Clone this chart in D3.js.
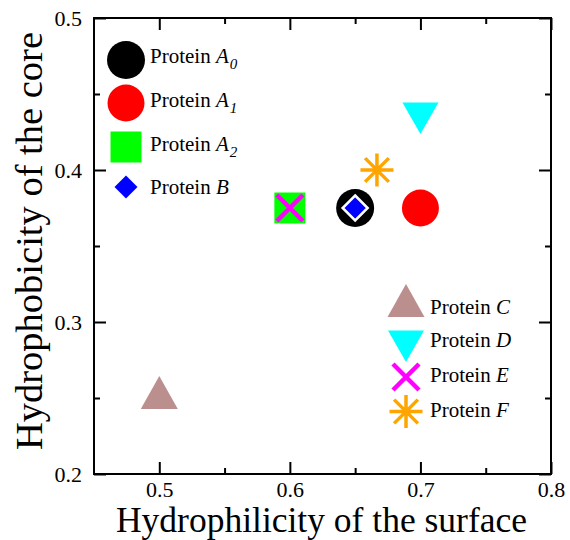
<!DOCTYPE html>
<html>
<head>
<meta charset="utf-8">
<script src="https://cdn.jsdelivr.net/npm/d3@7"></script>
<style>
  body { margin: 0; background: #fff; }
  text { font-family: "Liberation Serif", "Times New Roman", serif; fill: #000; }
</style>
</head>
<body>
<svg id="chart" width="570" height="540"></svg>
<script>
// ---- data ----
const proteinNames = ["A0", "A1", "A2", "B", "C", "D", "E", "F"];
const xValues = [0.65, 0.70, 0.60, 0.65, 0.50, 0.70, 0.60, 0.6667];
const yValues = [0.375, 0.375, 0.375, 0.375, 0.25, 0.4375, 0.375, 0.40];
const xMajorTicks = [0.5, 0.6, 0.7, 0.8];
const xMinorTicks = [0.55, 0.65, 0.75];
const yMajorTicks = [0.2, 0.3, 0.4, 0.5];
const yMinorTicks = [0.25, 0.35, 0.45];

// ---- styles ----
const styles = {
  A0: {shape: "circle", fill: "#000000", stroke: "none", size: 19},
  A1: {shape: "circle", fill: "#ff0000", stroke: "none", size: 18.5},
  A2: {shape: "square", fill: "#00ff00", stroke: "none", size: 15.5},
  B:  {shape: "diamond", fill: "#0000ff", stroke: "#ffffff", size: 12.5},
  C:  {shape: "triUp", fill: "#bc8f8f", stroke: "none", size: 18.5},
  D:  {shape: "triDown", fill: "#00ffff", stroke: "none", size: 18},
  E:  {shape: "cross", fill: "none", stroke: "#ff00ff", size: 13},
  F:  {shape: "star", fill: "none", stroke: "#ffa500", size: 16.5}
};

const svg = d3.select("#chart");
const L = 94, R = 551, T = 18, B = 474;
const x = d3.scaleLinear().domain([0.45, 0.8]).range([L, R]);
const y = d3.scaleLinear().domain([0.2, 0.5]).range([B, T]);

function shapePath(shape, s) {
  switch (shape) {
    case "circle": return `M${-s},0A${s},${s},0,1,1,${s},0A${s},${s},0,1,1,${-s},0Z`;
    case "square": return `M${-s},${-s}H${s}V${s}H${-s}Z`;
    case "diamond": return `M0,${-s}L${s},0L0,${s}L${-s},0Z`;
    case "triUp": { const h = s * 1.78; return `M0,${-2*h/3}L${s},${h/3}L${-s},${h/3}Z`; }
    case "triDown": { const h = s * 1.74; return `M0,${2*h/3}L${s},${-h/3}L${-s},${-h/3}Z`; }
    case "cross": return `M${-s},${-s}L${s},${s}M${-s},${s}L${s},${-s}`;
    case "star": { const d = s * 0.72; return `M${-s},0H${s}M0,${-s}V${s}M${-d},${-d}L${d},${d}M${-d},${d}L${d},${-d}`; }
  }
}
function drawSymbol(g, key, cx, cy) {
  const st = styles[key];
  const p = g.append("path")
    .attr("transform", `translate(${cx},${cy})`)
    .attr("d", shapePath(st.shape, st.size))
    .attr("fill", st.fill)
    .attr("stroke", st.stroke);
  if (st.shape === "cross") p.attr("stroke-width", 4.5);
  else if (st.shape === "star") p.attr("stroke-width", 3.5);
  else if (st.shape === "diamond") p.attr("stroke-width", 2.5);
  return p;
}

// ---- axes ----
function styleAxis(g) {
  g.select(".domain").remove();
  g.attr("font-family", null).attr("font-size", null);
  g.selectAll(".tick line").attr("stroke", "#000").attr("stroke-width", 2);
}
svg.append("g").attr("transform", `translate(0,${B})`)
  .call(d3.axisBottom(x).tickValues(xMajorTicks).tickSize(-12).tickFormat(d3.format(".1f")))
  .call(styleAxis)
  .call(g => g.selectAll(".tick text").attr("y", 23).attr("dy", null)
    .style("font-size", "22px"));
svg.append("g").attr("transform", `translate(0,${B})`)
  .call(d3.axisBottom(x).tickValues(xMinorTicks).tickSize(-6).tickFormat(""))
  .call(styleAxis);
svg.append("g").attr("transform", `translate(0,${T})`)
  .call(d3.axisTop(x).tickValues(xMajorTicks).tickSize(-12).tickFormat(""))
  .call(styleAxis);
svg.append("g").attr("transform", `translate(0,${T})`)
  .call(d3.axisTop(x).tickValues(xMinorTicks).tickSize(-6).tickFormat(""))
  .call(styleAxis);
svg.append("g").attr("transform", `translate(${L},0)`)
  .call(d3.axisLeft(y).tickValues(yMajorTicks).tickSize(-12).tickFormat(d3.format(".1f")))
  .call(styleAxis)
  .call(g => g.selectAll(".tick text").attr("x", -12).attr("dy", "0.36em")
    .style("font-size", "22px"));
svg.append("g").attr("transform", `translate(${L},0)`)
  .call(d3.axisLeft(y).tickValues(yMinorTicks).tickSize(-6).tickFormat(""))
  .call(styleAxis);
svg.append("g").attr("transform", `translate(${R},0)`)
  .call(d3.axisRight(y).tickValues(yMajorTicks).tickSize(-12).tickFormat(""))
  .call(styleAxis);
svg.append("g").attr("transform", `translate(${R},0)`)
  .call(d3.axisRight(y).tickValues(yMinorTicks).tickSize(-6).tickFormat(""))
  .call(styleAxis);

svg.append("rect").attr("x", L).attr("y", T).attr("width", R - L).attr("height", B - T)
  .attr("fill", "none").attr("stroke", "#000").attr("stroke-width", 2);

// ---- axis titles ----
svg.append("text").attr("x", (L + R) / 2 - 1).attr("y", 532)
  .attr("text-anchor", "middle").style("font-size", "35.5px")
  .text("Hydrophilicity of the surface");
svg.append("text").attr("transform", "translate(42,241) rotate(-90)")
  .attr("text-anchor", "middle").style("font-size", "38.5px")
  .text("Hydrophobicity of the core");

// ---- points ----
const plot = svg.append("g");
const drawOrder = ["A0", "B", "A1", "A2", "E", "C", "D", "F"];
drawOrder.forEach(k => {
  const i = proteinNames.indexOf(k);
  drawSymbol(plot, k, x(xValues[i]), y(yValues[i]));
});

// ---- legends ----
function legendLabel(g, tx, ty, letter, sub) {
  const t = g.append("text").attr("x", tx).attr("y", ty).style("font-size", "21px");
  t.append("tspan").text("Protein ");
  t.append("tspan").style("font-style", "italic").text(letter);
  if (sub !== null) {
    t.append("tspan").style("font-style", "italic").style("font-size", "15px")
      .attr("dy", 6).attr("dx", 1).text(sub);
  }
}
const leg1 = svg.append("g");
const leg1Rows = [["A0", 60, 63, "A", "0"], ["A1", 103, 107, "A", "1"], ["A2", 147, 151, "A", "2"], ["B", 187, 194, "B", null]];
leg1Rows.forEach(([k, sy, ty, letter, sub]) => {
  if (k === "B") {
    leg1.append("path").attr("transform", `translate(126,${sy})`)
      .attr("d", shapePath("diamond", 11.5)).attr("fill", styles.B.fill);
  } else drawSymbol(leg1, k, 126, sy);
  legendLabel(leg1, 150, ty, letter, sub);
});
const leg2 = svg.append("g");
const leg2Rows = [["C", 306, 314, "C"], ["D", 341, 347, "D"], ["E", 377, 382, "E"], ["F", 411.5, 417, "F"]];
leg2Rows.forEach(([k, sy, ty, letter]) => {
  drawSymbol(leg2, k, 406, sy);
  legendLabel(leg2, 430, ty, letter, null);
});
</script>
</body>
</html>
